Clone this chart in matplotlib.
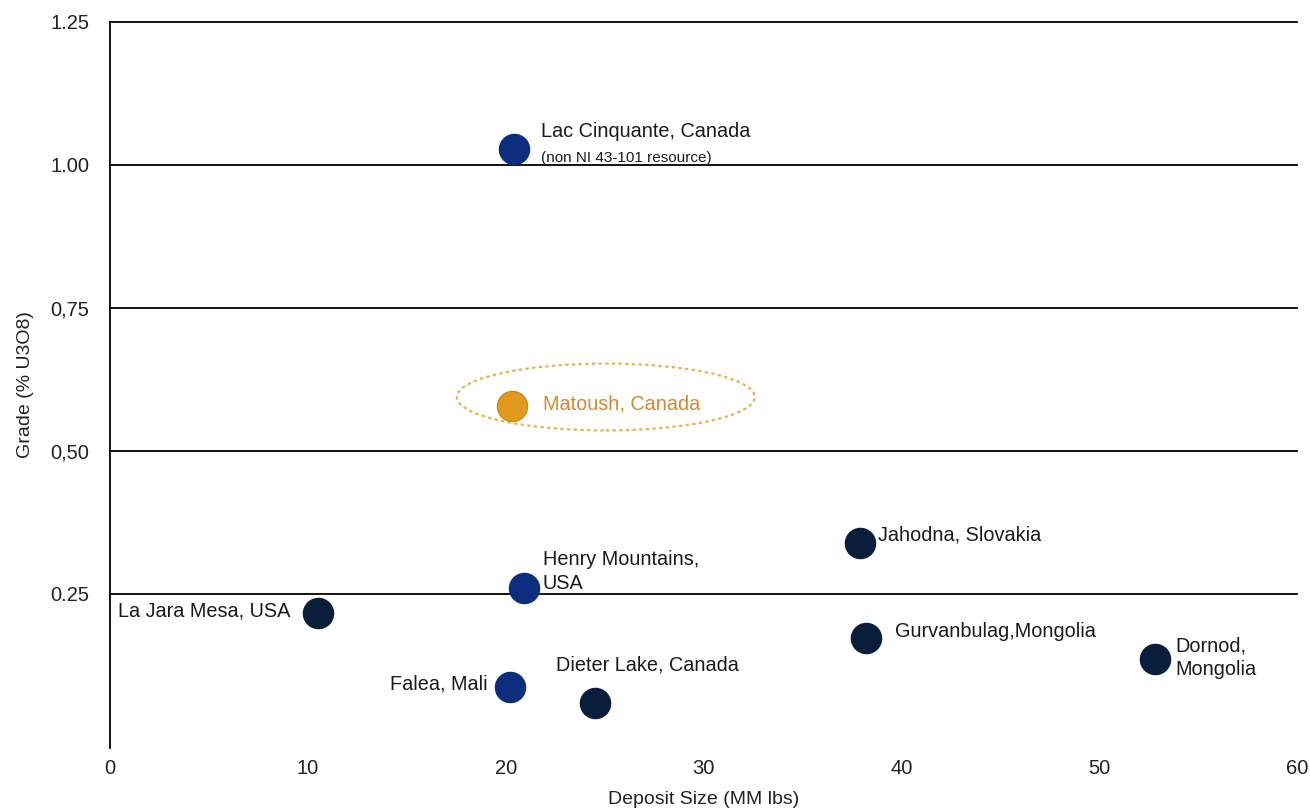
import matplotlib
matplotlib.use("Agg")
import matplotlib.pyplot as plt
from matplotlib.patches import Ellipse

plt.rcParams['font.family'] = ['Liberation Sans', 'DejaVu Sans']

# Data
names = ["Lac Cinquante, Canada", "Matoush, Canada", "Henry Mountains,\nUSA",
         "La Jara Mesa, USA", "Falea, Mali", "Dieter Lake, Canada",
         "Jahodna, Slovakia", "Gurvanbulag,Mongolia", "Dornod,\nMongolia"]
deposit_size = [20.4, 20.3, 20.9, 10.5, 20.2, 24.5, 37.9, 38.2, 52.8]
grade = [1.028, 0.579, 0.259, 0.217, 0.086, 0.059, 0.339, 0.173, 0.135]
group = ["blue", "orange", "blue", "dark", "blue", "dark", "dark", "dark", "dark"]

x_ticks = [0, 10, 20, 30, 40, 50, 60]
y_ticks = [0.25, 0.50, 0.75, 1.00, 1.25]
y_tick_labels = ["0.25", "0,50", "0,75", "1.00", "1.25"]

colors = {"blue": "#0d2d7e", "dark": "#0a1d3a", "orange": "#e19a1c"}
edge = {"blue": "#0d2d7e", "dark": "#0a1d3a", "orange": "#c98a1a"}

# label offsets in pixels (dx, dy, ha)
offsets = [(27, 17, "left"), (31, 2, "left"), (19, 17, "left"),
           (-27, 2, "right"), (-22, 3, "right"), (-39, 38, "left"),
           (18, 8, "left"), (29, 6, "left"), (21, 2, "left")]

fig = plt.figure(figsize=(13.1, 8.11), dpi=100)
ax = fig.add_axes([0.0840, 0.0777, 0.9061, 0.8952])
ax.set_xlim(0, 60)
ax.set_ylim(-0.02, 1.25)

for y in y_ticks:
    ax.axhline(y, color="black", lw=1.3, zorder=1, clip_on=False)

for xi, yi, g in zip(deposit_size, grade, group):
    ax.scatter([xi], [yi], s=470, color=colors[g], edgecolors=edge[g],
               linewidths=1.0, zorder=3)

for name, xi, yi, g, (dx, dy, ha) in zip(names, deposit_size, grade, group, offsets):
    col = "#cf8a35" if g == "orange" else "#1a1a1a"
    ax.annotate(name, (xi, yi), xytext=(dx, dy), textcoords="offset pixels",
                ha=ha, va="center", fontsize=14.3, color=col, zorder=4,
                linespacing=1.3)

# sub-note for Lac Cinquante
ax.annotate("(non NI 43-101 resource)", (deposit_size[0], grade[0]),
            xytext=(27, -9), textcoords="offset pixels", ha="left",
            va="center", fontsize=11, color="#1a1a1a", zorder=4)

# Highlight ellipse around Matoush
ell = Ellipse((25.06, 0.594), 15.06, 0.117, fill=False, edgecolor="#e2b25a",
              linestyle=(0, (1.5, 1.5)), lw=1.6, zorder=2)
ax.add_patch(ell)

for s in ["top", "right", "bottom"]:
    ax.spines[s].set_visible(False)
ax.spines["left"].set_color("black")
ax.spines["left"].set_linewidth(1.3)

ax.set_xticks(x_ticks)
ax.set_xticklabels([str(t) for t in x_ticks])
ax.set_yticks(y_ticks)
ax.set_yticklabels(y_tick_labels)
ax.tick_params(axis="both", length=0, labelsize=14.5, colors="#222222")
ax.tick_params(axis="y", pad=15)
ax.tick_params(axis="x", pad=8)

ax.set_xlabel("Deposit Size (MM lbs)", fontsize=14, color="#222222", labelpad=9)
ax.set_ylabel("Grade (% U3O8)", fontsize=14, color="#222222", labelpad=12)

fig.savefig("out.png", dpi=100)
